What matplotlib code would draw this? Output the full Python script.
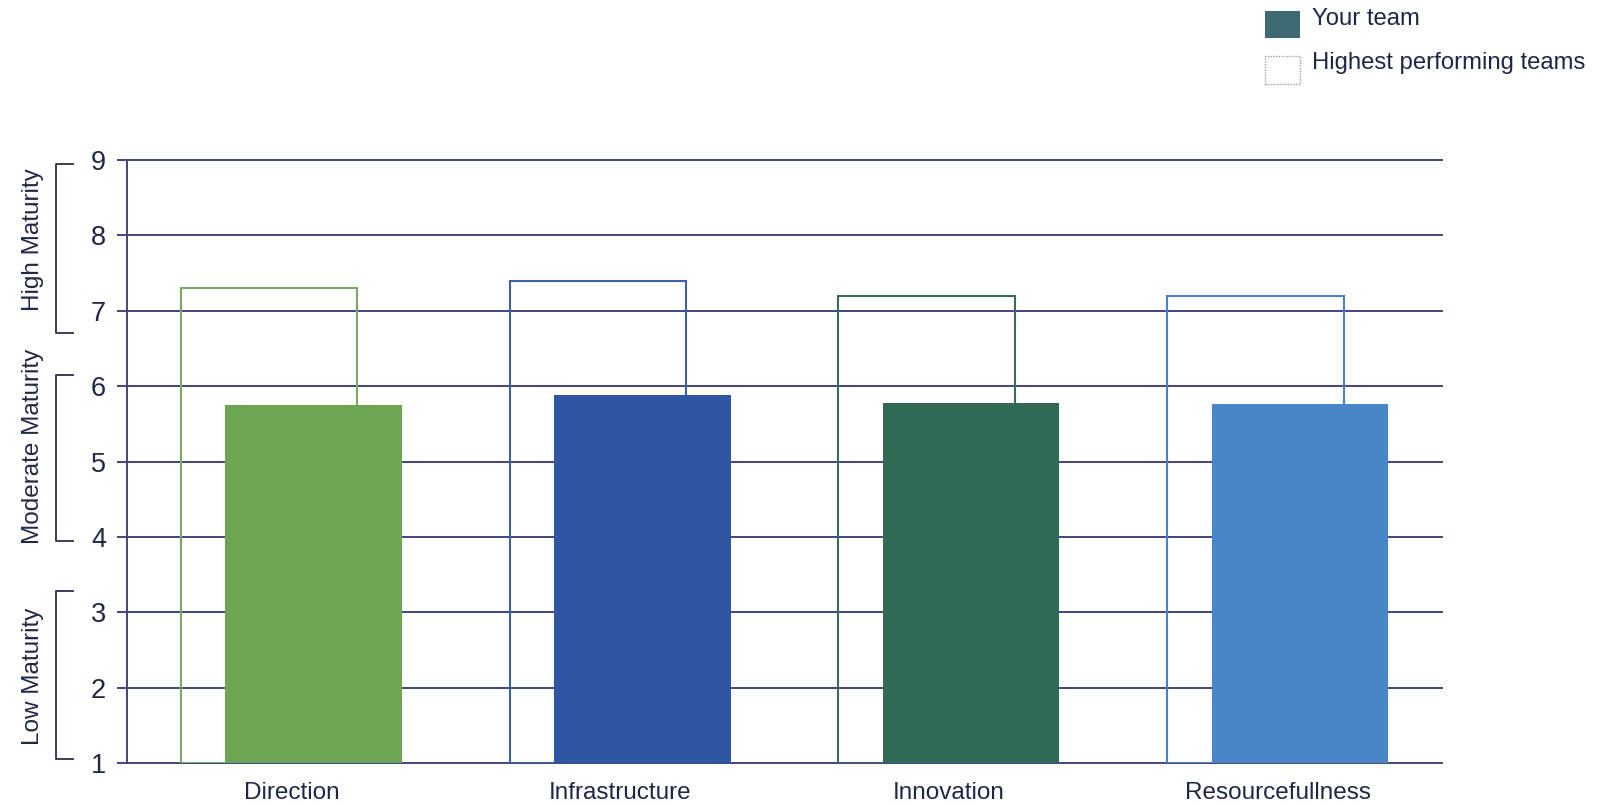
import matplotlib
matplotlib.use("Agg")
import matplotlib.pyplot as plt
from matplotlib.patches import Rectangle
from matplotlib.lines import Line2D

plt.rcParams['font.family'] = ['Liberation Sans', 'DejaVu Sans']

categories = ["Direction", "Infrastructure", "Innovation", "Resourcefullness"]
your_team = [5.75, 5.88, 5.77, 5.76]
highest_teams = [7.3, 7.4, 7.2, 7.2]
fill_colors = ["#6da653", "#2e56a3", "#2e6b52", "#4886c8"]
edge_colors = ["#79a865", "#3e5fae", "#3f6a58", "#4a80cc"]
y_ticks = [1, 2, 3, 4, 5, 6, 7, 8, 9]
# (label, bracket low, bracket high, label centre)
bands = [("High Maturity", 6.71, 8.95, 7.94),
         ("Moderate Maturity", 3.95, 6.15, 5.20),
         ("Low Maturity", 1.05, 3.28, 2.15)]

text_color = "#1f2747"
grid_color = "#42457e"

W, H = 1598, 806
fig = plt.figure(figsize=(W / 100, H / 100), dpi=100)
ax = fig.add_axes([127 / W, 1 - 763 / H, (1442 - 127) / W, (763 - 160) / H])

ax.set_xlim(-0.5, 3.5)
ax.set_ylim(1, 9)

x = list(range(len(categories)))
bw = 0.537
off = 0.068

for yv in y_ticks:
    ax.axhline(yv, color=grid_color, lw=1.4, zorder=1, clip_on=False)

ax.bar([xi - off for xi in x], [h - 1 for h in highest_teams], bottom=1,
       width=bw, facecolor="none", edgecolor=edge_colors, linewidth=1.5, zorder=2)
ax.bar([xi + off for xi in x], [v - 1 for v in your_team], bottom=1,
       width=bw, color=fill_colors, edgecolor="none", zorder=3)

for s in ["top", "right", "bottom"]:
    ax.spines[s].set_visible(False)
ax.spines["left"].set_color(grid_color)
ax.spines["left"].set_linewidth(1.4)

ax.set_yticks(y_ticks)
ax.set_yticklabels([str(v) for v in y_ticks], fontsize=19.5, color=text_color)
ax.tick_params(axis="y", length=7, width=1.4, color=grid_color, pad=8)
ax.set_xticks(x)
ax.set_xticklabels(categories, fontsize=17.5, color=text_color)
ax.tick_params(axis="x", length=0, pad=14)

# maturity bands with brackets on the left
trans = ax.get_yaxis_transform()
bx0 = (56 - 127) / (1442 - 127)
bx1 = (73 - 127) / (1442 - 127)
lx = (33 - 127) / (1442 - 127)
for label, lo, hi, mid in bands:
    ax.add_line(Line2D([bx1, bx0, bx0, bx1], [hi, hi, lo, lo], transform=trans,
                       color="#2a2f45", lw=1.3, clip_on=False))
    ax.text(lx, mid, label, transform=trans, rotation=90,
            ha="center", va="center", fontsize=17.5, color=text_color)

# legend drawn in figure pixels
def fig_rect(x0, y0, x1, y1, **kw):
    fig.patches.append(Rectangle((x0 / W, 1 - y1 / H), (x1 - x0) / W, (y1 - y0) / H,
                                 transform=fig.transFigure, **kw))

fig_rect(1265, 11, 1300, 38, facecolor="#3e6a73", edgecolor="none")
fig_rect(1265, 56, 1300, 84, facecolor="white", edgecolor="#a0a0a0",
         linewidth=1.0, linestyle=(0, (1, 1)))
fig.text(1312 / W, 1 - 19 / H, "Your team", fontsize=17.2, color=text_color,
         ha="left", va="center")
fig.text(1312 / W, 1 - 63 / H, "Highest performing teams", fontsize=17.2,
         color=text_color, ha="left", va="center")

fig.savefig("out.png", dpi=100, facecolor="white")
